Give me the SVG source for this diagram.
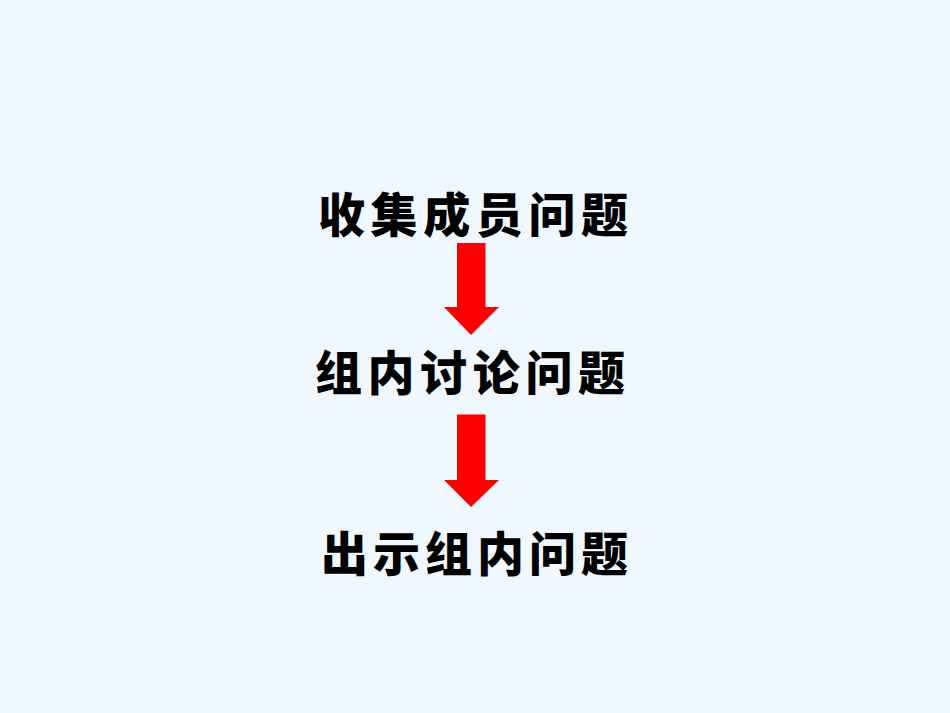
<svg xmlns="http://www.w3.org/2000/svg" width="950" height="713" viewBox="0 0 950 713">
<style>
.t{font-family:"Noto Sans CJK SC","Noto Sans",sans-serif;font-weight:900;font-size:47px;fill:#000;text-anchor:middle}
.a{fill:#FF0000}
</style>
<rect width="950" height="713" fill="#F0F8FF"/>
<g id="n1"><text class="t" x="473" y="232" textLength="310" lengthAdjust="spacing">收集成员问题</text></g>
<g id="n2"><text class="t" x="470" y="390" textLength="310" lengthAdjust="spacing">组内讨论问题</text></g>
<g id="n3"><text class="t" x="474.5" y="571" textLength="307" lengthAdjust="spacing">出示组内问题</text></g>
<g id="connectors">
<polygon class="a" points="457,243 485.5,243 485.5,307 499,307 471,335 444,307 457,307"/>
<polygon class="a" points="457,414.5 485.5,414.5 485.5,480 499,480 471,507 444,480 457,480"/>
</g>
</svg>
